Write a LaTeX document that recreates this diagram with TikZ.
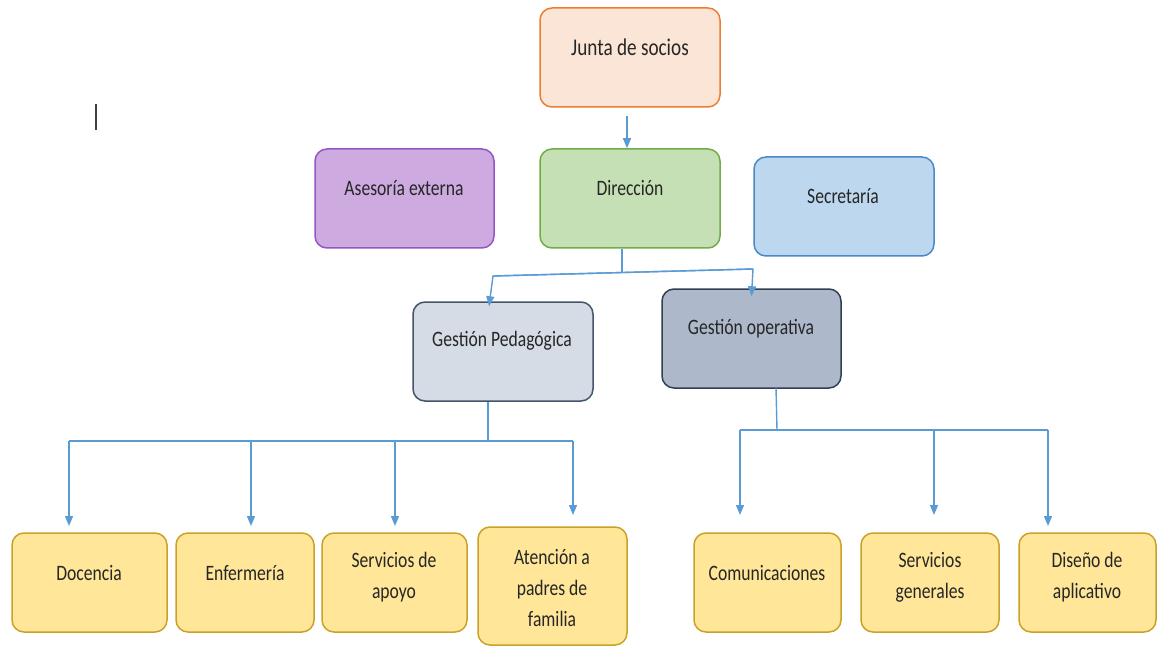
\documentclass[tikz,border=0pt]{standalone}
\usepackage{fontspec}
\setmainfont{Carlito}[FakeStretch=0.8]
\usetikzlibrary{arrows.meta}
\definecolor{cline}{HTML}{5B9BD5}
\definecolor{ctext}{HTML}{262626}
\definecolor{jfill}{HTML}{FBE5D6}\definecolor{jdraw}{HTML}{ED7D31}
\definecolor{afill}{HTML}{CDABE1}\definecolor{adraw}{HTML}{9456C4}
\definecolor{dfill}{HTML}{C5E0B4}\definecolor{ddraw}{HTML}{70AD47}
\definecolor{sfill}{HTML}{BDD7EE}\definecolor{sdraw}{HTML}{4A89C8}
\definecolor{pfill}{HTML}{D6DCE5}\definecolor{pdraw}{HTML}{44546A}
\definecolor{ofill}{HTML}{ADB9CA}\definecolor{odraw}{HTML}{333F50}
\definecolor{yfill}{HTML}{FFE699}\definecolor{ydraw}{HTML}{C9A227}
\tikzset{
  orgbox/.style 2 args={draw=#2, fill=#1, line width=1.5pt, rounded corners=12pt,
    minimum width=180pt, minimum height=99pt, inner sep=0pt},
  lbl/.style={text=ctext, font=\fontsize{22}{31}\selectfont, align=center, inner sep=0pt},
  conn/.style={draw=cline, line width=1.4pt},
  arr/.style={conn, -{Triangle[width=8pt,length=10pt]}}
}
\begin{document}
\begin{tikzpicture}[x=1pt,y=-1pt]
\useasboundingbox (0,0) rectangle (1157,647);
% boxes
\node[orgbox={jfill}{jdraw}] (junta) at (630,57.5) {};
\node[orgbox={afill}{adraw}, minimum width=179pt] (ases) at (404.5,198.5) {};
\node[orgbox={dfill}{ddraw}] (dir) at (630,198.5) {};
\node[orgbox={sfill}{sdraw}] (secr) at (844,206.5) {};
\node[orgbox={pfill}{pdraw}] (ped) at (503,351.5) {};
\node[orgbox={ofill}{odraw}, minimum width=179pt] (oper) at (751.5,338.5) {};
\node[orgbox={yfill}{ydraw}, minimum width=155pt] (doc) at (89.5,582.5) {};
\node[orgbox={yfill}{ydraw}, minimum width=138pt] (enf) at (245,582.5) {};
\node[orgbox={yfill}{ydraw}, minimum width=145pt] (apoyo) at (394.5,582.5) {};
\node[orgbox={yfill}{ydraw}, minimum width=149pt, minimum height=118pt] (aten) at (552.5,586) {};
\node[orgbox={yfill}{ydraw}, minimum width=147pt] (com) at (767.5,582.5) {};
\node[orgbox={yfill}{ydraw}, minimum width=138pt] (gen) at (930,582.5) {};
\node[orgbox={yfill}{ydraw}, minimum width=137pt] (dis) at (1087.5,582.5) {};
% labels
\node[lbl, font=\fontsize{24}{31}\selectfont] (junta-t) at (630,47) {Junta de socios};
\node[lbl] (ases-t) at (404,188) {Asesoría externa};
\node[lbl] (dir-t) at (630,188) {Dirección};
\node[lbl] (secr-t) at (843,196) {Secretaría};
\node[lbl] (ped-t) at (502,341) {Gestión Pedagógica};
\node[lbl] (oper-t) at (751,329) {Gestión operativa};
\node[lbl] (doc-t) at (89,573) {Docencia};
\node[lbl] (enf-t) at (245,573) {Enfermería};
\node[lbl] (apoyo-t) at (394,577) {Servicios de\\apoyo};
\node[lbl] (aten-t) at (552,588) {Atención a\\padres de\\familia};
\node[lbl] (com-t) at (767,573) {Comunicaciones};
\node[lbl] (gen-t) at (930,577) {Servicios\\generales};
\node[lbl] (dis-t) at (1087,577) {Diseño de\\aplicativo};
% cursor
\draw[line width=1.5pt, draw=black!75] (96,104) -- (96,130);
% Junta -> Direccion
\draw[arr] ([xshift=-3pt,yshift=-8pt]junta.south) -- ([xshift=-3pt]dir.north);
% Direccion -> Gestiones
\coordinate (d1) at (622,272.5);
\coordinate (dl) at (493,276);
\coordinate (dr) at (753,269);
\draw[conn] (dir.south -| d1) -- (d1);
\draw[arr] (dr) -- (dl) -- ([xshift=-14pt,yshift=-5pt]ped.north);
\draw[arr] (dl) -- (dr) -- ([yshift=-8pt]oper.north);
% Pedagogica -> hijos
\coordinate (p1) at (488,441);
\coordinate (pl) at (69,441);
\coordinate (pr) at (573,441);
\draw[conn] (ped.south -| p1) -- (p1);
\draw[conn] (pl) -- (pr);
\draw[arr] (pl) -- (69,526);
\draw[arr] (251,441) -- (251,526);
\draw[arr] (395,441) -- (395,526);
\draw[arr] (pr) -- (573,515);
% Operativa -> hijos
\coordinate (o1) at (777,430);
\coordinate (ol) at (740,430);
\coordinate (or) at (1048,430);
\draw[conn] (776,388) -- (o1);
\draw[conn] (ol) -- (or);
\draw[arr] (ol) -- (740,515);
\draw[arr] (934,430) -- (934,515);
\draw[arr] (or) -- (1048,526);
\end{tikzpicture}
\end{document}
